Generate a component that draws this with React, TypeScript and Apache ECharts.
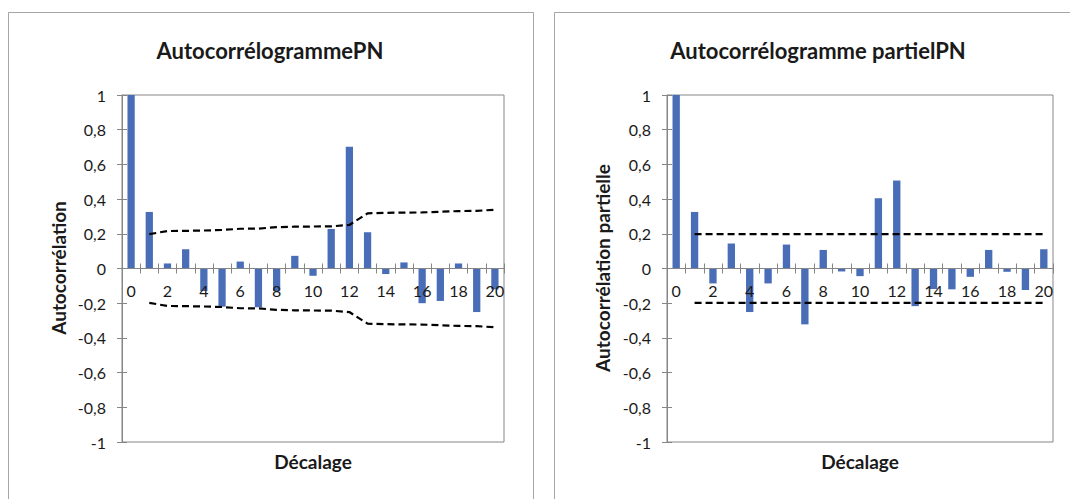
import React, { useEffect, useRef } from "react";
import * as echarts from "echarts";

const lags = ["0","1","2","3","4","5","6","7","8","9","10","11","12","13","14","15","16","17","18","19","20"];

const acf = [1, 0.326, 0.029, 0.111, -0.13, -0.22, 0.04, -0.223, -0.13, 0.073, -0.042, 0.228, 0.702, 0.209, -0.032, 0.035, -0.2, -0.187, 0.029, -0.251, -0.12];
const acfUpper = [null, 0.198, 0.216, 0.217, 0.219, 0.222, 0.229, 0.230, 0.238, 0.241, 0.242, 0.243, 0.251, 0.318, 0.321, 0.322, 0.323, 0.327, 0.331, 0.332, 0.339];
const acfLower = [null, -0.198, -0.216, -0.217, -0.219, -0.222, -0.229, -0.230, -0.238, -0.241, -0.242, -0.243, -0.251, -0.318, -0.321, -0.322, -0.323, -0.327, -0.331, -0.332, -0.339];

const pacf = [1, 0.326, -0.086, 0.144, -0.251, -0.086, 0.138, -0.322, 0.107, -0.017, -0.044, 0.405, 0.507, -0.217, -0.118, -0.12, -0.048, 0.107, -0.019, -0.124, 0.111];
const pacfUpper = [null, 0.198, 0.198, 0.198, 0.198, 0.198, 0.198, 0.198, 0.198, 0.198, 0.198, 0.198, 0.198, 0.198, 0.198, 0.198, 0.198, 0.198, 0.198, 0.198, 0.198];
const pacfLower = [null, -0.198, -0.198, -0.198, -0.198, -0.198, -0.198, -0.198, -0.198, -0.198, -0.198, -0.198, -0.198, -0.198, -0.198, -0.198, -0.198, -0.198, -0.198, -0.198, -0.198];

const FONT = "Lato, 'Open Sans', sans-serif";
const AXIS_COLOR = "#868686";
const BAR_COLOR = "#4a6db8";
const TEXT_COLOR = "#1a1a1a";

const fmt = (v: number) => {
  const r = Math.round(v * 10) / 10;
  if (r === 0) return "0";
  return String(r).replace(".", ",");
};

export default function App() {
  const ref = useRef<HTMLDivElement>(null);
  useEffect(() => {
    if (!ref.current) return;
    const chart = echarts.init(ref.current, null, { renderer: "svg" });
    const PLOT_H = 347;
    const grids = [
      { left: 122, top: 95, width: 382, height: PLOT_H },
      { left: 667, top: 95, width: 386, height: PLOT_H },
    ];
    // the x axis sits on the value 0, i.e. at mid-height of the plot (range -1..1)
    const zeroOffset = -PLOT_H / 2;
    const xAxes: any[] = [];
    const yAxes: any[] = [];
    grids.forEach((_, gi) => {
      xAxes.push({
        type: "category",
        gridIndex: gi,
        position: "bottom",
        offset: zeroOffset,
        z: 5,
        data: lags,
        boundaryGap: true,
        axisLine: { onZero: false, lineStyle: { color: AXIS_COLOR, width: 1 } },
        axisTick: { show: true, interval: 0, alignWithLabel: false, length: 5, lineStyle: { color: AXIS_COLOR } },
        axisLabel: { interval: 1, margin: 14, fontSize: 16, fontFamily: FONT, color: TEXT_COLOR },
        splitLine: { show: false },
      });
      xAxes.push({
        type: "category",
        gridIndex: gi,
        position: "bottom",
        offset: zeroOffset,
        z: 5,
        data: lags,
        boundaryGap: true,
        axisLine: { show: false, onZero: false },
        axisTick: { show: true, inside: true, interval: 0, alignWithLabel: false, length: 5, lineStyle: { color: AXIS_COLOR } },
        axisLabel: { show: false },
        splitLine: { show: false },
      });
      yAxes.push({
        type: "value",
        gridIndex: gi,
        position: "left",
        min: -1,
        max: 1,
        interval: 0.2,
        axisLine: { show: true, onZero: false, lineStyle: { color: AXIS_COLOR } },
        axisTick: { show: true, length: 5, lineStyle: { color: AXIS_COLOR } },
        axisLabel: { margin: 16, fontSize: 16, fontFamily: FONT, color: TEXT_COLOR, formatter: (v: number) => fmt(v) },
        splitLine: { show: false },
      });
      yAxes.push({
        type: "value",
        gridIndex: gi,
        position: "left",
        min: -1,
        max: 1,
        interval: 0.2,
        axisLine: { show: false, onZero: false },
        axisTick: { show: true, inside: true, length: 5, lineStyle: { color: AXIS_COLOR } },
        axisLabel: { show: false },
        splitLine: { show: false },
      });
    });

    const dashed = { color: "#000", width: 2.2, type: [7, 4] as any };
    const lineSeries = (data: any[], gi: number) => ({
      type: "line",
      xAxisIndex: gi * 2,
      yAxisIndex: gi * 2,
      data: data.map((v) => (v === null ? "-" : v)),
      symbol: "none",
      lineStyle: dashed,
      silent: true,
      connectNulls: false,
      z: 3,
    });
    const barSeries = (data: number[], gi: number) => ({
      type: "bar",
      xAxisIndex: gi * 2,
      yAxisIndex: gi * 2,
      data,
      barWidth: "40%",
      itemStyle: { color: BAR_COLOR },
      silent: true,
      z: 2,
    });

    const boldText = (text: string, x: number, y: number, size: number, rot = 0) => ({
      type: "text",
      x,
      y,
      rotation: rot,
      silent: true,
      style: {
        text,
        fill: TEXT_COLOR,
        font: `bold ${size}px ${FONT}`,
        align: "center",
        verticalAlign: "middle",
      },
    });

    chart.setOption({
      animation: false,
      backgroundColor: "#ffffff",
      grid: grids.map((g) => ({ ...g, show: true, borderColor: AXIS_COLOR, borderWidth: 1, backgroundColor: "transparent" })),
      xAxis: xAxes,
      yAxis: yAxes,
      series: [
        barSeries(acf, 0),
        lineSeries(acfUpper, 0),
        lineSeries(acfLower, 0),
        barSeries(pacf, 1),
        lineSeries(pacfUpper, 1),
        lineSeries(pacfLower, 1),
      ],
      graphic: [
        { type: "rect", silent: true, shape: { x: 8.5, y: 12.5, width: 525, height: 520 }, style: { fill: "none", stroke: "#a6a6a6", lineWidth: 1 } },
        { type: "rect", silent: true, shape: { x: 554.5, y: 12.5, width: 540, height: 520 }, style: { fill: "none", stroke: "#a6a6a6", lineWidth: 1 } },
        boldText("AutocorrélogrammePN", 270, 50, 22),
        boldText("Autocorrélogramme partielPN", 818, 50, 22),
        boldText("Autocorrélation", 58, 268, 19, Math.PI / 2),
        boldText("Autocorrélation partielle", 602, 268, 19, Math.PI / 2),
        boldText("Décalage", 313, 461, 19),
        boldText("Décalage", 860, 461, 19),
      ],
    });
    return () => chart.dispose();
  }, []);
  return <div ref={ref} style={{ position: "absolute", left: 0, top: 0, width: 1070, height: 499 }} />;
}
